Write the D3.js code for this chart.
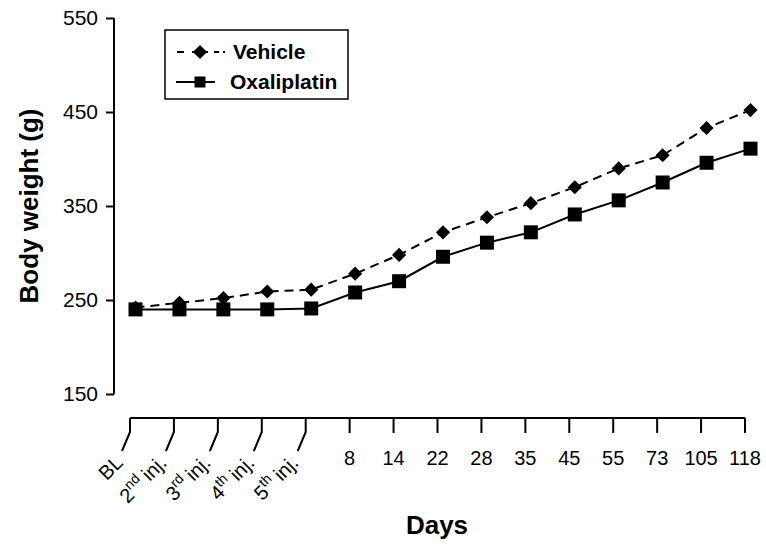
<!DOCTYPE html>
<html><head><meta charset="utf-8">
<script src="https://cdn.jsdelivr.net/npm/d3@7"></script>
<style>
html,body{margin:0;padding:0;background:#fff;}
svg{display:block;font-family:"Liberation Sans",Arial,Helvetica,sans-serif;}
text,tspan{fill:#000;}
</style></head>
<body>
<svg id="chart" width="766" height="545"></svg>
<script>
const categories = ["BL","2nd inj.","3rd inj.","4th inj.","5th inj.","8","14","22","28","35","45","55","73","105","118"];
// slanted tick labels: [main text, superscript, rest]
const slantedLabels = [["BL","",""],["2","nd"," inj."],["3","rd"," inj."],["4","th"," inj."],["5","th"," inj."]];
const vehicle = [242,247,252,259,261,278,298,322,338,353,370,390,404,433,452];
const oxaliplatin = [240,240,240,240,241,258,270,296,311,322,341,356,375,396,411];
const yTicks = [150,250,350,450,550];
const seriesNames = ["Vehicle","Oxaliplatin"];

const svg = d3.select("#chart");
const x = d3.scalePoint().domain(categories).range([130,745]);
const xData = d3.scalePoint().domain(categories).range([135.5,750.5]);
const y = d3.scaleLinear().domain([150,550]).range([394,18]);

const axisY = 114, axisX = 418;
const FONT = "'Liberation Sans',Arial,Helvetica,sans-serif";

// Y axis
const gy = svg.append("g").attr("transform",`translate(${axisY},0)`)
  .call(d3.axisLeft(y).tickValues(yTicks).tickSize(8).tickPadding(8).tickFormat(d3.format("d")));
gy.select(".domain").attr("stroke","#000").attr("stroke-width",2).attr("d",`M0,${y(550)}V${y(150)}`);
gy.selectAll(".tick line").attr("stroke","#000").attr("stroke-width",2);
gy.selectAll(".tick text").attr("font-size",21).attr("fill","#000").attr("font-family",FONT);

// X axis
const gx = svg.append("g");
gx.append("line").attr("x1",x(categories[0])).attr("x2",x(categories[categories.length-1]))
  .attr("y1",axisX).attr("y2",axisX).attr("stroke","#000").attr("stroke-width",2);
categories.forEach((c,i)=>{
  const tx = x(c);
  if(i<5){
    gx.append("path").attr("d",`M${tx},${axisX}V${axisX+14}L${tx-8},${axisX+33}`)
      .attr("fill","none").attr("stroke","#000").attr("stroke-width",2);
    const t = gx.append("text").attr("transform",`translate(${tx-6},${axisX+46}) rotate(-45)`)
      .attr("text-anchor","end").attr("font-size",20).attr("fill","#000");
    const lab = slantedLabels[i];
    t.append("tspan").attr("fill","#000").text(lab[0]);
    if(lab[1]) t.append("tspan").attr("fill","#000").attr("font-size",14).attr("dy","-0.6em").text(lab[1]);
    if(lab[2]) t.append("tspan").attr("fill","#000").attr("dy",lab[1]?"0.42em":0).attr("dx",lab[1]?-1:0).text(lab[2]);
  } else {
    gx.append("line").attr("x1",tx).attr("x2",tx).attr("y1",axisX).attr("y2",axisX+15)
      .attr("stroke","#000").attr("stroke-width",2);
    gx.append("text").attr("x",tx).attr("y",axisX+47).attr("text-anchor","middle")
      .attr("font-size",20).attr("fill","#000").text(c);
  }
});

// Axis titles
svg.append("text").attr("x",437).attr("y",534).attr("text-anchor","middle")
  .attr("font-size",26).attr("font-weight","bold").text("Days");
svg.append("text").attr("transform","translate(38,206) rotate(-90)").attr("text-anchor","middle")
  .attr("font-size",26).attr("font-weight","bold").text("Body weight (g)");

// Lines
const line = d3.line().x((d,i)=>xData(categories[i])).y(d=>y(d));
svg.append("path").datum(vehicle).attr("d",line).attr("fill","none").attr("stroke","#000")
  .attr("stroke-width",2).attr("stroke-dasharray","9,6");
svg.append("path").datum(oxaliplatin).attr("d",line).attr("fill","none").attr("stroke","#000")
  .attr("stroke-width",2);

// Markers
svg.append("g").selectAll("path").data(vehicle).join("path")
  .attr("transform",(d,i)=>`translate(${xData(categories[i])},${y(d)}) rotate(45)`)
  .attr("d",d3.symbol().type(d3.symbolSquare).size(100)()).attr("fill","#000");
svg.append("g").selectAll("path").data(oxaliplatin).join("path")
  .attr("transform",(d,i)=>`translate(${xData(categories[i])},${y(d)})`)
  .attr("d",d3.symbol().type(d3.symbolSquare).size(196)()).attr("fill","#000");

// Legend
const lg = svg.append("g");
lg.append("rect").attr("x",165).attr("y",30).attr("width",183).attr("height",69)
  .attr("fill","#fff").attr("stroke","#000").attr("stroke-width",1.5);
lg.append("line").attr("x1",177).attr("x2",226).attr("y1",52).attr("y2",52)
  .attr("stroke","#000").attr("stroke-width",2).attr("stroke-dasharray","7,8,16,6,5,4,2,10");
lg.append("path").attr("transform","translate(200,52) rotate(45)")
  .attr("d",d3.symbol().type(d3.symbolSquare).size(100)()).attr("fill","#000");
lg.append("line").attr("x1",176).attr("x2",215).attr("y1",82).attr("y2",82)
  .attr("stroke","#000").attr("stroke-width",2);
lg.append("path").attr("transform","translate(200,82)")
  .attr("d",d3.symbol().type(d3.symbolSquare).size(121)()).attr("fill","#000");
lg.append("text").attr("x",233).attr("y",59).attr("font-size",21).attr("font-weight","bold").text(seriesNames[0]);
lg.append("text").attr("x",230).attr("y",89).attr("font-size",21).attr("font-weight","bold").text(seriesNames[1]);
</script>
</body></html>
